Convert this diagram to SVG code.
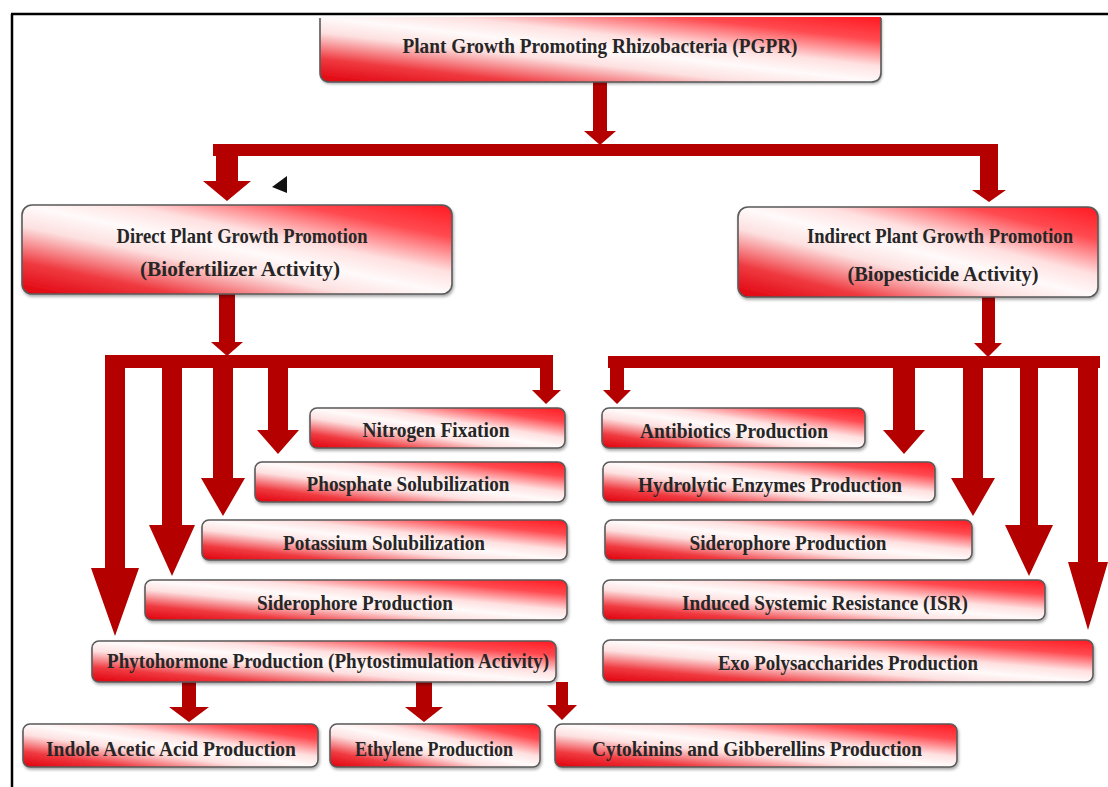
<svg xmlns="http://www.w3.org/2000/svg" width="1108" height="787" viewBox="0 0 1108 787">
<defs>
<linearGradient id="boxGrad" x1="0" y1="1" x2="1" y2="0">
<stop offset="0" stop-color="#e0000c"/>
<stop offset="0.18" stop-color="#ef3a40"/>
<stop offset="0.38" stop-color="#fde0e0"/>
<stop offset="0.5" stop-color="#fffafa"/>
<stop offset="0.62" stop-color="#ffe0e0"/>
<stop offset="0.82" stop-color="#ff4a50"/>
<stop offset="1" stop-color="#ff1a22"/>
</linearGradient>
<filter id="shadow" x="-5%" y="-20%" width="110%" height="150%">
<feDropShadow dx="1" dy="2" stdDeviation="1.5" flood-color="#000" flood-opacity="0.35"/>
</filter>
<style>
.box{fill:url(#boxGrad);stroke:#5a5a5a;stroke-width:1.6;filter:url(#shadow)}
.lbl{font-family:"Liberation Serif","Times New Roman",serif;font-size:21px;font-weight:bold;fill:#262626;text-anchor:middle}
.arr{fill:#b50000}
.frame{stroke:#000;stroke-width:2.5;fill:none}
</style>
</defs>
<rect width="1108" height="787" fill="#fff"/>
<g id="frame">
<path class="frame" d="M11,14 H1108 M12,14 V787"/>
</g>
<g id="connectors">
<polygon class="arr" points="593,82 607,82 607,131 616,131 600,145 584,131 593,131"/>
<rect class="arr" x="213" y="144" width="785" height="12"/>
<polygon class="arr" points="216,144 238,144 238,181 251,181 227,201 203,181 216,181"/>
<polygon class="arr" points="980,144 998,144 998,190 1006,190 989,202 972,190 980,190"/>
<polygon class="arr" points="219,294 235,294 235,342 243,342 227,356 211,342 219,342"/>
<rect class="arr" x="105" y="355" width="448" height="13"/>
<polygon class="arr" points="105,355 125,355 125,568 139,568 115,636 91,568 105,568"/>
<polygon class="arr" points="162,355 182,355 182,525 195,525 172,576 149,525 162,525"/>
<polygon class="arr" points="213,355 233,355 233,478 245,478 223,516 201,478 213,478"/>
<polygon class="arr" points="268,355 288,355 288,430 299,430 278,454 257,430 268,430"/>
<polygon class="arr" points="540,355 553,355 553,390 561,390 546,404 532,390 540,390"/>
<polygon class="arr" points="982,297 995,297 995,343 1002,343 988,357 974,343 982,343"/>
<rect class="arr" x="608" y="356" width="492" height="12"/>
<polygon class="arr" points="610,356 624,356 624,390 631,390 617,404 603,390 610,390"/>
<polygon class="arr" points="893,356 915,356 915,430 925,430 904,454 883,430 893,430"/>
<polygon class="arr" points="963,356 983,356 983,478 995,478 973,516 951,478 963,478"/>
<polygon class="arr" points="1020,356 1038,356 1038,525 1053,525 1029,576 1005,525 1020,525"/>
<polygon class="arr" points="1078,356 1098,356 1098,562 1108,562 1088,630 1068,562 1078,562"/>
<polygon class="arr" points="182,682 196,682 196,707 209,707 189,722 169,707 182,707"/>
<polygon class="arr" points="416,682 432,682 432,707 443,707 424,722 405,707 416,707"/>
<polygon class="arr" points="556,682 568,682 568,705 577,705 562,720 547,705 556,705"/>
</g>
<g id="marker-triangle">
<polygon points="287,176 272,187 287,193" fill="#111"/>
</g>
<g id="node-pgpr">
<path d="M320,17 H881 V72 Q881,82 871,82 H330 Q320,82 320,72 Z" fill="url(#boxGrad)" filter="url(#shadow)"/>
<path d="M320,18 V72 Q320,82 330,82 H871 Q881,82 881,72 V18" fill="none" stroke="#5a5a5a" stroke-width="1.6"/>
<text class="lbl" x="600" y="53" textLength="395" lengthAdjust="spacingAndGlyphs">Plant Growth Promoting Rhizobacteria (PGPR)</text>
</g>
<g id="node-direct">
<rect class="box" x="22" y="205" width="430" height="89" rx="10"/>
<text class="lbl" x="242" y="243" textLength="251" lengthAdjust="spacingAndGlyphs">Direct Plant Growth Promotion</text>
<text class="lbl" x="240" y="276" textLength="200" lengthAdjust="spacingAndGlyphs">(Biofertilizer Activity)</text>
</g>
<g id="node-indirect">
<rect class="box" x="738" y="207" width="360" height="90" rx="10"/>
<text class="lbl" x="940" y="243" textLength="266" lengthAdjust="spacingAndGlyphs">Indirect Plant Growth Promotion</text>
<text class="lbl" x="943" y="281" textLength="191" lengthAdjust="spacingAndGlyphs">(Biopesticide Activity)</text>
</g>
<g id="node-nitrogen">
<rect class="box" x="310" y="408" width="255" height="40" rx="7"/>
<text class="lbl" x="436" y="437" textLength="147" lengthAdjust="spacingAndGlyphs">Nitrogen Fixation</text>
</g>
<g id="node-phosphate">
<rect class="box" x="255" y="462" width="310" height="40" rx="7"/>
<text class="lbl" x="408" y="491" textLength="203" lengthAdjust="spacingAndGlyphs">Phosphate Solubilization</text>
</g>
<g id="node-potassium">
<rect class="box" x="202" y="520" width="365" height="40" rx="7"/>
<text class="lbl" x="384" y="550" textLength="202" lengthAdjust="spacingAndGlyphs">Potassium Solubilization</text>
</g>
<g id="node-siderophore-direct">
<rect class="box" x="145" y="580" width="422" height="40" rx="7"/>
<text class="lbl" x="355" y="610" textLength="196" lengthAdjust="spacingAndGlyphs">Siderophore Production</text>
</g>
<g id="node-phytohormone">
<rect class="box" x="92" y="641" width="464" height="41" rx="7"/>
<text class="lbl" x="328" y="668" textLength="442" lengthAdjust="spacingAndGlyphs">Phytohormone Production (Phytostimulation Activity)</text>
</g>
<g id="node-indole">
<rect class="box" x="23" y="724" width="295" height="43" rx="7"/>
<text class="lbl" x="171" y="756" textLength="250" lengthAdjust="spacingAndGlyphs">Indole Acetic Acid Production</text>
</g>
<g id="node-ethylene">
<rect class="box" x="330" y="724" width="210" height="43" rx="7"/>
<text class="lbl" x="434" y="756" textLength="158" lengthAdjust="spacingAndGlyphs">Ethylene Production</text>
</g>
<g id="node-cytokinins">
<rect class="box" x="555" y="724" width="402" height="43" rx="7"/>
<text class="lbl" x="757" y="756" textLength="330" lengthAdjust="spacingAndGlyphs">Cytokinins and Gibberellins Production</text>
</g>
<g id="node-antibiotics">
<rect class="box" x="602" y="408" width="263" height="40" rx="7"/>
<text class="lbl" x="734" y="438" textLength="188" lengthAdjust="spacingAndGlyphs">Antibiotics Production</text>
</g>
<g id="node-hydrolytic">
<rect class="box" x="603" y="462" width="332" height="40" rx="7"/>
<text class="lbl" x="770" y="492" textLength="264" lengthAdjust="spacingAndGlyphs">Hydrolytic Enzymes Production</text>
</g>
<g id="node-siderophore-indirect">
<rect class="box" x="605" y="520" width="367" height="40" rx="7"/>
<text class="lbl" x="788" y="550" textLength="197" lengthAdjust="spacingAndGlyphs">Siderophore Production</text>
</g>
<g id="node-isr">
<rect class="box" x="603" y="580" width="442" height="40" rx="7"/>
<text class="lbl" x="825" y="610" textLength="286" lengthAdjust="spacingAndGlyphs">Induced Systemic Resistance (ISR)</text>
</g>
<g id="node-exo">
<rect class="box" x="603" y="640" width="490" height="42" rx="7"/>
<text class="lbl" x="848" y="670" textLength="260" lengthAdjust="spacingAndGlyphs">Exo Polysaccharides Production</text>
</g>
</svg>
